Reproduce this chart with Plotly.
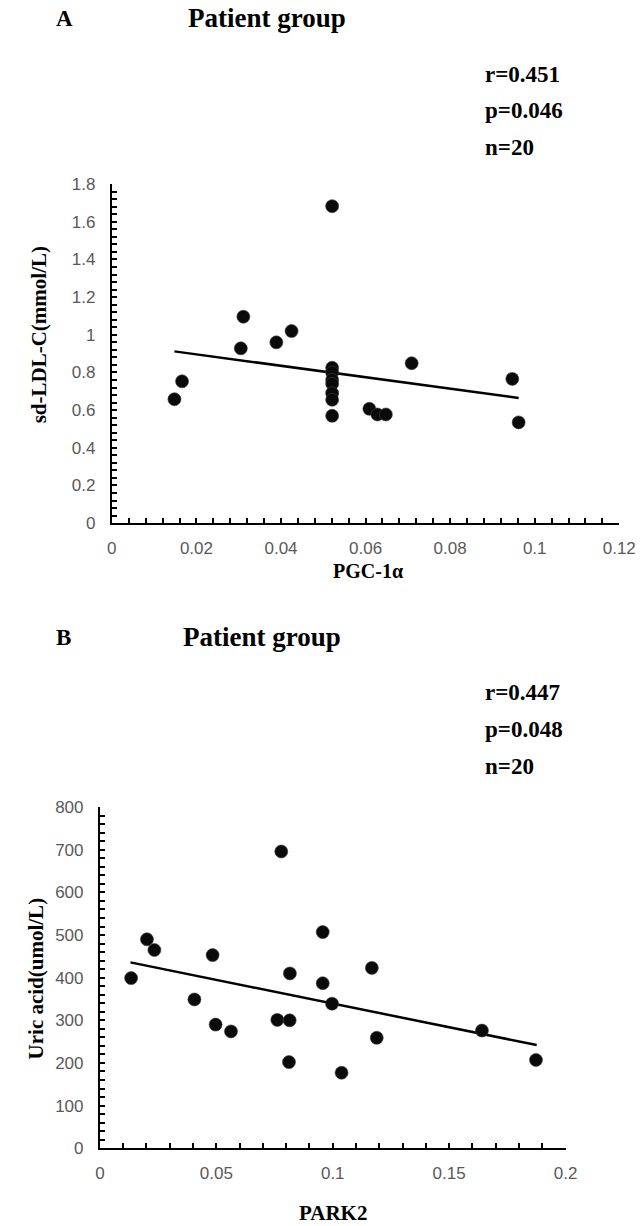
import numpy as np
import plotly.graph_objects as go

W, H = 643, 1226

# Panel A data: PGC-1α vs sd-LDL-C
pgc1a = [0.0521, 0.0311, 0.0305, 0.0389, 0.0425, 0.0166, 0.0148,
         0.0521, 0.0521, 0.0521, 0.0521, 0.0521, 0.0521, 0.0521,
         0.0609, 0.0628, 0.0648, 0.0709, 0.0947, 0.0962]
sdldl = [1.683, 1.096, 0.928, 0.960, 1.020, 0.753, 0.658,
         0.825, 0.800, 0.761, 0.740, 0.690, 0.655, 0.570,
         0.607, 0.577, 0.577, 0.849, 0.766, 0.535]

# Panel B data: PARK2 vs uric acid
park2 = [0.0779, 0.0202, 0.0234, 0.0484, 0.0957, 0.0816, 0.0957, 0.0134,
         0.1168, 0.0406, 0.0497, 0.0563, 0.0762, 0.0815, 0.0812, 0.1038,
         0.0997, 0.1189, 0.1641, 0.1873]
uric = [696, 490, 465, 453, 507, 410, 387, 399,
        423, 349, 290, 274, 301, 300, 202, 177,
        339, 259, 276, 207]

# Trend line endpoints
trendA_x = [0.0148, 0.0962]
trendA_y = [0.912, 0.665]
trendB_x = [0.0131, 0.1876]
trendB_y = [436, 242]

fig = go.Figure()

# compensation for the observed capture transform
SX, BX = 0.9707, 5.6
SY, BY = 0.9844, 8.9

def px_x(p):
    return ((p - BX) / SX) / W

def px_y(p):
    return 1 - ((p - BY) / SY) / H

marker = dict(size=13, color="#0a0a0a", line=dict(width=1, color="rgba(60,60,60,0.6)"))

fig.add_trace(go.Scatter(x=trendA_x, y=trendA_y, mode="lines",
                         line=dict(color="black", width=2.5), xaxis="x", yaxis="y", showlegend=False))
fig.add_trace(go.Scatter(x=pgc1a, y=sdldl, mode="markers", marker=marker,
                         xaxis="x", yaxis="y", showlegend=False))
fig.add_trace(go.Scatter(x=trendB_x, y=trendB_y, mode="lines",
                         line=dict(color="black", width=2.5), xaxis="x2", yaxis="y2", showlegend=False))
fig.add_trace(go.Scatter(x=park2, y=uric, mode="markers", marker=marker,
                         xaxis="x2", yaxis="y2", showlegend=False))

tickfont = dict(family="Liberation Sans, Arial", size=17, color="#595959")
common = dict(showline=True, linecolor="black", linewidth=2, ticks="inside", ticklen=5,
              tickwidth=1.5, tickcolor="black", showgrid=False, zeroline=False,
              tickfont=tickfont, fixedrange=True, ticklabeloverflow="allow")

fig.update_layout(
    width=W, height=H, margin=dict(l=0, r=0, t=0, b=0),
    paper_bgcolor="white", plot_bgcolor="white",
    xaxis=dict(domain=[px_x(113), px_x(623)], range=[0, 0.12], dtick=0.02, tick0=0,
               anchor="y", ticklabelstandoff=8,
               minor=dict(ticks="inside", ticklen=5, tickwidth=1.5, tickcolor="black", dtick=0.004),
               **common),
    yaxis=dict(domain=[px_y(523), px_y(184)], range=[0, 1.8], dtick=0.2, tick0=0,
               anchor="x", ticklabelstandoff=11,
               minor=dict(ticks="inside", ticklen=5, tickwidth=1.5, tickcolor="black", dtick=0.04),
               **common),
    xaxis2=dict(domain=[px_x(101), px_x(569)], range=[0, 0.2], dtick=0.05, tick0=0,
                anchor="y2", ticklabelstandoff=8,
                minor=dict(ticks="inside", ticklen=5, tickwidth=1.5, tickcolor="black", dtick=0.01),
                **common),
    yaxis2=dict(domain=[px_y(1148), px_y(807)], range=[0, 800], dtick=100, tick0=0,
                anchor="x2", ticklabelstandoff=11,
                minor=dict(ticks="inside", ticklen=5, tickwidth=1.5, tickcolor="black", dtick=20),
                **common),
)

bold = dict(family="Liberation Serif, Times New Roman", size=23, color="black")

def ann(text, x, y, xanchor="center", angle=0, size=23):
    f = dict(bold)
    f["size"] = size
    fig.add_annotation(text="<b>" + text + "</b>", x=px_x(x), y=px_y(y), xref="paper", yref="paper",
                       xanchor=xanchor, yanchor="middle", showarrow=False, textangle=angle,
                       font=f, borderpad=0)

# Panel A texts
ann("A", 56, 18, xanchor="left", size=23)
ann("Patient group", 269, 18, size=27)
ann("r=0.451", 487, 74, xanchor="left")
ann("p=0.046", 487, 110, xanchor="left")
ann("n=20", 487, 147, xanchor="left")
ann("sd-LDL-C(mmol/L)", 40, 335, angle=-90, size=21)
ann("PGC-1α", 370, 571, size=20)

# Panel B texts
ann("B", 56, 637, xanchor="left", size=23)
ann("Patient group", 264, 637, size=27)
ann("r=0.447", 487, 692, xanchor="left")
ann("p=0.048", 487, 729, xanchor="left")
ann("n=20", 487, 766, xanchor="left")
ann("Uric acid(umol/L)", 37, 978, angle=-90, size=21)
ann("PARK2", 335, 1213, size=21)

fig.write_html("out.html", config={"displayModeBar": False},
               post_script="document.body.style.margin='0';document.body.style.overflow='hidden';")
